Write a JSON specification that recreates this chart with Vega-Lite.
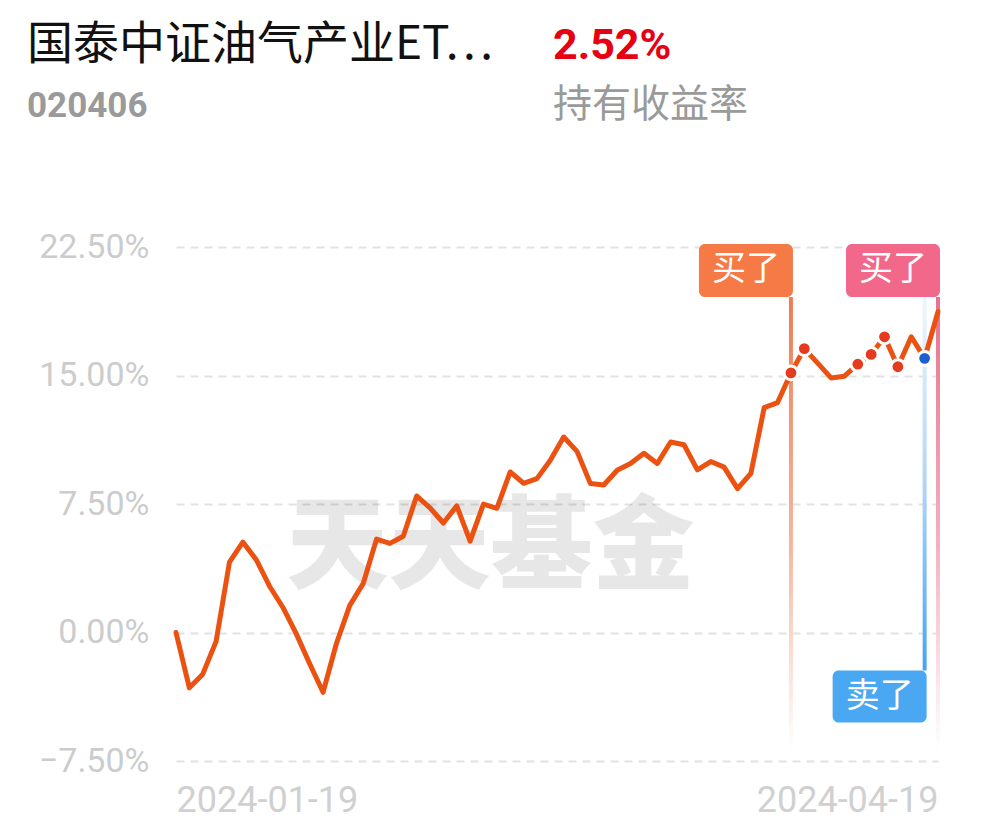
{
  "$schema": "https://vega.github.io/schema/vega-lite/v6.json",
  "background": "white",
  "padding": {"left": 27, "top": 22, "right": 10, "bottom": 20},
  "config": {"view": {"stroke": null}, "font": "Roboto"},
  "datasets": {
    "header": [
      {"block": "基金", "line": 1, "role": "名称", "text": "国泰中证油气产业ET…"},
      {"block": "基金", "line": 2, "role": "代码", "text": "020406"},
      {"block": "收益", "line": 1, "role": "收益率", "text": "2.52%"},
      {"block": "收益", "line": 2, "role": "标签", "text": "持有收益率"}
    ],
    "nav": [
      {"date": "2024-01-19", "ret": 0.0},
      {"date": "2024-01-22", "ret": -3.23},
      {"date": "2024-01-23", "ret": -2.43},
      {"date": "2024-01-24", "ret": -0.52},
      {"date": "2024-01-25", "ret": 4.11},
      {"date": "2024-01-26", "ret": 5.28},
      {"date": "2024-01-29", "ret": 4.25},
      {"date": "2024-01-30", "ret": 2.7},
      {"date": "2024-01-31", "ret": 1.46},
      {"date": "2024-02-01", "ret": -0.08},
      {"date": "2024-02-02", "ret": -1.83},
      {"date": "2024-02-05", "ret": -3.49},
      {"date": "2024-02-06", "ret": -0.64},
      {"date": "2024-02-07", "ret": 1.58},
      {"date": "2024-02-08", "ret": 2.85},
      {"date": "2024-02-19", "ret": 5.45},
      {"date": "2024-02-20", "ret": 5.2},
      {"date": "2024-02-21", "ret": 5.62},
      {"date": "2024-02-22", "ret": 7.97},
      {"date": "2024-02-23", "ret": 7.28},
      {"date": "2024-02-26", "ret": 6.39},
      {"date": "2024-02-27", "ret": 7.39},
      {"date": "2024-02-28", "ret": 5.33},
      {"date": "2024-02-29", "ret": 7.49},
      {"date": "2024-03-01", "ret": 7.25},
      {"date": "2024-03-04", "ret": 9.37},
      {"date": "2024-03-05", "ret": 8.71},
      {"date": "2024-03-06", "ret": 8.98},
      {"date": "2024-03-07", "ret": 10.05},
      {"date": "2024-03-08", "ret": 11.41},
      {"date": "2024-03-11", "ret": 10.57},
      {"date": "2024-03-12", "ret": 8.69},
      {"date": "2024-03-13", "ret": 8.61},
      {"date": "2024-03-14", "ret": 9.47},
      {"date": "2024-03-15", "ret": 9.86},
      {"date": "2024-03-18", "ret": 10.46},
      {"date": "2024-03-19", "ret": 9.86},
      {"date": "2024-03-20", "ret": 11.12},
      {"date": "2024-03-21", "ret": 10.96},
      {"date": "2024-03-22", "ret": 9.49},
      {"date": "2024-03-25", "ret": 9.98},
      {"date": "2024-03-26", "ret": 9.65},
      {"date": "2024-03-27", "ret": 8.4},
      {"date": "2024-03-28", "ret": 9.28},
      {"date": "2024-03-29", "ret": 13.13},
      {"date": "2024-04-01", "ret": 13.42},
      {"date": "2024-04-02", "ret": 15.15, "txn": "买入"},
      {"date": "2024-04-03", "ret": 16.57, "txn": "买入"},
      {"date": "2024-04-08", "ret": 15.72},
      {"date": "2024-04-09", "ret": 14.86},
      {"date": "2024-04-10", "ret": 14.96},
      {"date": "2024-04-11", "ret": 15.66, "txn": "买入"},
      {"date": "2024-04-12", "ret": 16.23, "txn": "买入"},
      {"date": "2024-04-15", "ret": 17.26, "txn": "买入"},
      {"date": "2024-04-16", "ret": 15.51, "txn": "买入"},
      {"date": "2024-04-17", "ret": 17.26},
      {"date": "2024-04-18", "ret": 16.0, "txn": "卖出"},
      {"date": "2024-04-19", "ret": 18.72}
    ],
    "events": [
      {"date": "2024-04-02", "action": "买了", "event": "buy1"},
      {"date": "2024-04-19", "action": "买了", "event": "buy2"},
      {"date": "2024-04-18", "action": "卖了", "event": "sell"}
    ]
  },
  "concat": [
    {
      "width": 526,
      "height": 58,
      "data": {"name": "header"},
      "encoding": {
        "x": {"field": "block", "type": "nominal", "scale": {"type": "point", "padding": 0, "domain": ["基金", "收益"], "range": [-149, 377]}, "axis": null},
        "y": {"field": "line", "type": "ordinal", "scale": {"type": "point", "padding": 0, "domain": [1, 2]}, "axis": null},
        "text": {"field": "text"}
      },
      "layer": [
        {"transform": [{"filter": "datum.role === '名称'"}], "mark": {"type": "text", "align": "left", "baseline": "alphabetic", "font": "Noto Sans CJK SC", "fontSize": 46, "color": "#111111"}},
        {"transform": [{"filter": "datum.role === '代码'"}], "mark": {"type": "text", "align": "left", "baseline": "alphabetic", "font": "Roboto", "fontWeight": "bold", "fontSize": 35, "color": "#9a9a9a"}},
        {"transform": [{"filter": "datum.role === '收益率'"}], "mark": {"type": "text", "align": "left", "baseline": "alphabetic", "font": "Roboto", "fontWeight": "bold", "fontSize": 43, "color": "#e60012"}},
        {"transform": [{"filter": "datum.role === '标签'"}], "mark": {"type": "text", "align": "left", "baseline": "alphabetic", "font": "Noto Sans CJK SC", "fontSize": 39, "color": "#9a9a9a"}}
      ]
    },
    {
      "width": 762,
      "height": 514,
      "data": {"name": "nav"},
      "resolve": {"scale": {"color": "independent"}},
      "layer": [
        {
          "data": {"values": [{"brand": "天天基金"}]},
          "mark": {"type": "text", "font": "Noto Sans CJK SC", "fontWeight": 900, "fontSize": 102, "color": "#000000", "opacity": 0.09, "align": "center", "baseline": "middle", "dx": 7},
          "encoding": {
            "x": {"datum": "2024-02-29", "type": "ordinal"},
            "y": {"datum": 4.8, "type": "quantitative"},
            "text": {"field": "brand"}
          }
        },
        {
          "data": {"name": "events"},
          "transform": [{"filter": "datum.event === 'buy1'"}],
          "mark": {"type": "bar", "width": 4, "color": {"gradient": "linear", "x1": 0, "y1": 0, "x2": 0, "y2": 1, "stops": [{"offset": 0, "color": "#ec7d55"}, {"offset": 0.55, "color": "#f5b79e"}, {"offset": 1, "color": "#ffffff"}]}},
          "encoding": {
            "x": {"field": "date", "type": "ordinal"},
            "y": {"datum": 19.58},
            "y2": {"datum": -6.9}
          }
        },
        {
          "data": {"name": "events"},
          "transform": [{"filter": "datum.event === 'buy2'"}],
          "mark": {"type": "bar", "width": 4, "color": {"gradient": "linear", "x1": 0, "y1": 0, "x2": 0, "y2": 1, "stops": [{"offset": 0, "color": "#e8708e"}, {"offset": 0.55, "color": "#f3b2c2"}, {"offset": 1, "color": "#ffffff"}]}},
          "encoding": {
            "x": {"field": "date", "type": "ordinal"},
            "y": {"datum": 19.58},
            "y2": {"datum": -6.9}
          }
        },
        {
          "data": {"name": "events"},
          "transform": [{"filter": "datum.event === 'sell'"}],
          "mark": {"type": "bar", "width": 4, "color": {"gradient": "linear", "x1": 0, "y1": 0, "x2": 0, "y2": 1, "stops": [{"offset": 0, "color": "#eef6fe"}, {"offset": 0.5, "color": "#b0d6f6"}, {"offset": 1, "color": "#4aa3ee"}]}},
          "encoding": {
            "x": {"field": "date", "type": "ordinal"},
            "y": {"datum": 19.58},
            "y2": {"datum": -2.22}
          }
        },
        {
          "mark": {"type": "line", "color": "#eb5212", "strokeWidth": 5, "strokeJoin": "round", "strokeCap": "round"},
          "encoding": {
            "x": {
              "field": "date", "type": "ordinal",
              "scale": {"type": "point", "padding": 0},
              "axis": {"values": ["2024-01-19", "2024-04-19"], "labelAlign": {"condition": {"test": "datum.value === '2024-01-19'", "value": "left"}, "value": "right"}, "labelFlush": false, "labelLimit": 0, "labelAngle": 0, "domain": false, "ticks": false, "grid": false, "labelColor": "#d0d0d0", "labelFontSize": 36, "labelPadding": 39, "title": null}
            },
            "y": {
              "field": "ret", "type": "quantitative",
              "scale": {"domain": [-7.5, 22.5], "nice": false, "zero": false},
              "axis": {"values": [-7.5, 0, 7.5, 15, 22.5], "labelExpr": "format(datum.value, '.2f') + '%'", "domain": false, "ticks": false, "grid": true, "gridColor": "#e2e2e2", "gridDash": [8, 6], "gridWidth": 2, "labelColor": "#cccccc", "labelFontSize": 34, "labelPadding": 27, "minExtent": 149, "maxExtent": 149, "title": null}
            }
          }
        },
        {
          "transform": [{"filter": "datum.txn != null"}],
          "mark": {"type": "point", "filled": true, "size": 190, "stroke": "white", "strokeWidth": 3, "opacity": 1},
          "encoding": {
            "x": {"field": "date", "type": "ordinal"},
            "y": {"field": "ret", "type": "quantitative"},
            "color": {"field": "txn", "type": "nominal", "scale": {"domain": ["买入", "卖出"], "range": ["#e63a1e", "#1d5fd0"]}, "legend": null}
          }
        },
        {
          "data": {"name": "events"},
          "transform": [{"filter": "datum.action === '买了'"}],
          "mark": {"type": "bar", "width": 94, "xOffset": -45, "cornerRadius": 6},
          "encoding": {
            "x": {"field": "date", "type": "ordinal"},
            "y": {"datum": 22.68},
            "y2": {"datum": 19.58},
            "color": {"field": "event", "type": "nominal", "scale": {"domain": ["buy1", "buy2"], "range": ["#f57a46", "#f2688a"]}, "legend": null}
          }
        },
        {
          "data": {"name": "events"},
          "transform": [{"filter": "datum.action === '卖了'"}],
          "mark": {"type": "bar", "width": 94, "xOffset": -45, "cornerRadius": 6, "color": "#4aa8f3"},
          "encoding": {
            "x": {"field": "date", "type": "ordinal"},
            "y": {"datum": -2.22},
            "y2": {"datum": -5.26}
          }
        },
        {
          "data": {"name": "events"},
          "transform": [{"filter": "datum.action === '买了'"}],
          "mark": {"type": "text", "font": "Noto Sans CJK SC", "fontSize": 34, "color": "white", "align": "center", "baseline": "middle", "xOffset": -45},
          "encoding": {
            "x": {"field": "date", "type": "ordinal"},
            "y": {"datum": 21.13},
            "text": {"field": "action"}
          }
        },
        {
          "data": {"name": "events"},
          "transform": [{"filter": "datum.action === '卖了'"}],
          "mark": {"type": "text", "font": "Noto Sans CJK SC", "fontSize": 34, "color": "white", "align": "center", "baseline": "middle", "xOffset": -45},
          "encoding": {
            "x": {"field": "date", "type": "ordinal"},
            "y": {"datum": -3.74},
            "text": {"field": "action"}
          }
        }
      ]
    }
  ],
  "columns": 1,
  "align": "none",
  "spacing": 105
}
